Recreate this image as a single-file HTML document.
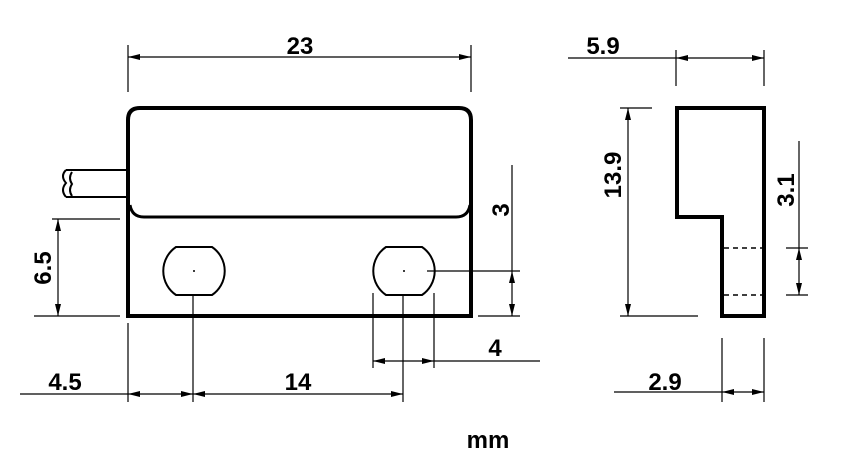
<!DOCTYPE html>
<html><head><meta charset="utf-8"><style>
html,body{margin:0;padding:0;background:#fff;width:856px;height:472px;overflow:hidden}
text{font-family:"Liberation Sans",Arial,sans-serif;font-weight:bold;font-size:24px;fill:#000}
</style></head><body>
<svg width="856" height="472" viewBox="0 0 856 472" xmlns="http://www.w3.org/2000/svg">
<defs>
<marker id="a" viewBox="0 0 12 6" refX="12" refY="3" markerWidth="12" markerHeight="6" orient="auto-start-reverse" markerUnits="userSpaceOnUse">
<path d="M0,0 L12,3 L0,6 z" fill="#000"/></marker>
</defs>
<g stroke="#000" fill="none">
<path d="M128,316 V120 Q128,108 140,108 H459 Q471,108 471,120 V316 Z" stroke-width="4"/>
<path d="M130,205 Q132,217 144,217 H456 Q468,217 470,205" stroke-width="3"/>
<path d="M128,170 H66 M128,197 H66" stroke-width="2"/>
<path d="M66,170 Q60,176 66,183 Q60,190 66,197 M72,172 Q68,178 72,184 Q68,190 72,196" stroke-width="2"/>
<path d="M176,247 H212 A29,29 0 0 1 212,295 H176 A29,29 0 0 1 176,247 Z" stroke-width="2"/>
<path d="M386,247 H422 A29,29 0 0 1 422,295 H386 A29,29 0 0 1 386,247 Z" stroke-width="2"/>
<g stroke-width="1.2">
<path d="M128,45 V92 M471,45 V92"/>
<path d="M128,57 H471" marker-start="url(#a)" marker-end="url(#a)"/>
<path d="M52,219 H120 M34,316 H120"/>
<path d="M58,219 V316" marker-start="url(#a)" marker-end="url(#a)"/>
<path d="M427,271 H520 M478,316 H520 M512,165 V271"/>
<path d="M512,271 V316" marker-start="url(#a)" marker-end="url(#a)"/>
<path d="M373,293 V368 M434,293 V368 M434,361 H540"/>
<path d="M373,361 H434" marker-start="url(#a)" marker-end="url(#a)"/>
<path d="M128,323 V402 M193,295 V402 M403,295 V402 M20,394 H128"/>
<path d="M128,394 H193" marker-start="url(#a)" marker-end="url(#a)"/>
<path d="M193,394 H403" marker-start="url(#a)" marker-end="url(#a)"/>
</g>
<path d="M677,108 H764 V316 H722 V217 H677 Z" stroke-width="4"/>
<path d="M724,248 H762 M724,295 H762" stroke-width="1.5" stroke-dasharray="5,4"/>
<g stroke-width="1.2">
<path d="M676,50 V86 M764,50 V86 M568,58 H676"/>
<path d="M676,58 H764" marker-start="url(#a)" marker-end="url(#a)"/>
<path d="M620,108 H652 M620,316 H698"/>
<path d="M628,108 V316" marker-start="url(#a)" marker-end="url(#a)"/>
<path d="M786,248 H808 M786,295 H808 M799,141 V248"/>
<path d="M799,248 V295" marker-start="url(#a)" marker-end="url(#a)"/>
<path d="M722,338 V402 M764,338 V402 M614,392 H722"/>
<path d="M722,392 H764" marker-start="url(#a)" marker-end="url(#a)"/>
</g>
</g>
<circle cx="194" cy="271" r="1" fill="#000"/>
<circle cx="404" cy="271" r="1" fill="#000"/>
<text x="300" y="54" text-anchor="middle">23</text>
<text x="65" y="390" text-anchor="middle">4.5</text>
<text x="298" y="390" text-anchor="middle">14</text>
<text x="495" y="356" text-anchor="middle">4</text>
<text transform="translate(51,268) rotate(-90)" text-anchor="middle">6.5</text>
<text transform="translate(509,210) rotate(-90)" text-anchor="middle">3</text>
<text x="603" y="54" text-anchor="middle">5.9</text>
<text transform="translate(621,175) rotate(-90)" text-anchor="middle">13.9</text>
<text transform="translate(794,190) rotate(-90)" text-anchor="middle">3.1</text>
<text x="665" y="390" text-anchor="middle">2.9</text>
<text x="488" y="448" text-anchor="middle">mm</text>
</svg>
</body></html>
